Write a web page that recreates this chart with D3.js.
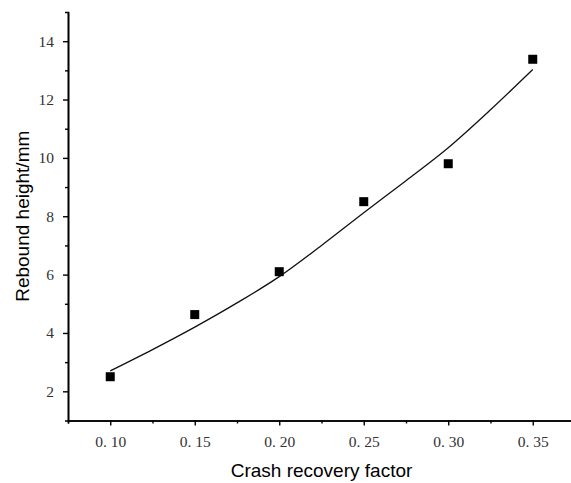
<!DOCTYPE html>
<html>
<head>
<meta charset="utf-8">
<script src="https://cdn.jsdelivr.net/npm/d3@7"></script>
<style>
  html, body { margin: 0; padding: 0; background: #fff; }
  svg { display: block; }
</style>
</head>
<body>
<div id="chart-container"></div>
<script>
// measured points
const factors = [0.10, 0.15, 0.20, 0.25, 0.30, 0.35];
const heights = [2.5, 4.63, 6.1, 8.5, 9.8, 13.38];

// fitted curve
const fitX = [0.10, 0.125, 0.15, 0.175, 0.20, 0.225, 0.25, 0.275, 0.30, 0.325, 0.35];
const fitY = [2.7, 3.43, 4.2, 5.03, 5.93, 7.0, 8.12, 9.22, 10.35, 11.65, 13.03];

const xTicks = [0.10, 0.15, 0.20, 0.25, 0.30, 0.35];
const yTicks = [2, 4, 6, 8, 10, 12, 14];

const width = 571, height = 483;
const marginLeft = 68, marginTop = 12, marginBottom = 62.5, marginRight = -4;

const svg = d3.select("#chart-container")
  .append("svg")
  .attr("width", width)
  .attr("height", height);

const x = d3.scaleLinear()
  .domain([0.075, 0.375])
  .range([marginLeft, width - marginRight]);

const y = d3.scaleLinear()
  .domain([1, 15])
  .range([height - marginBottom, marginTop]);

// x axis, major + minor ticks
const xAxisG = svg.append("g")
  .attr("transform", `translate(0, ${height - marginBottom})`);
xAxisG.call(d3.axisBottom(x)
  .tickValues(d3.range(0.075, 0.38, 0.025).filter(v => !xTicks.some(t => Math.abs(t - v) < 1e-6)))
  .tickSize(3).tickFormat(""));
xAxisG.append("g").call(d3.axisBottom(x)
  .tickValues(xTicks).tickSize(5).tickSizeOuter(0)
  .tickFormat(d => d3.format(".2f")(d).replace(".", ". ")));

// y axis
const yAxisG = svg.append("g")
  .attr("transform", `translate(${marginLeft}, 0)`);
yAxisG.call(d3.axisLeft(y)
  .tickValues([3, 5, 7, 9, 11, 13])
  .tickSize(3).tickFormat(""));
yAxisG.append("g").call(d3.axisLeft(y)
  .tickValues(yTicks).tickSize(5).tickSizeOuter(0));

svg.selectAll(".domain").attr("stroke", "#000").attr("stroke-width", 1.6);
svg.selectAll(".tick line").attr("stroke", "#000").attr("stroke-width", 1.4);
svg.selectAll(".tick text")
  .attr("fill", "#333")
  .style("font-family", "'Liberation Serif', 'DejaVu Serif', serif")
  .style("font-size", "15.5px");
xAxisG.selectAll(".tick text").attr("dy", "1.05em").attr("y", 10);
yAxisG.selectAll(".tick text").attr("x", -14);

// fitted line
const line = d3.line()
  .x((d, i) => x(fitX[i]))
  .y(d => y(d))
  .curve(d3.curveMonotoneX);

svg.append("path")
  .datum(fitY)
  .attr("d", line)
  .attr("fill", "none")
  .attr("stroke", "#111")
  .attr("stroke-width", 1.3);

// square markers
const s = 9;
svg.selectAll("rect.pt")
  .data(heights)
  .enter()
  .append("rect")
  .attr("class", "pt")
  .attr("x", (d, i) => x(factors[i]) - s / 2)
  .attr("y", d => y(d) - s / 2)
  .attr("width", s)
  .attr("height", s)
  .attr("fill", "#000");

// axis titles
svg.append("text")
  .attr("x", (marginLeft + width - marginRight) / 2)
  .attr("y", 477)
  .attr("text-anchor", "middle")
  .style("font-family", "'Liberation Sans', Arial, sans-serif")
  .style("font-size", "19px")
  .text("Crash recovery factor");

svg.append("text")
  .attr("transform", "rotate(-90)")
  .attr("x", -(marginTop + height - marginBottom) / 2)
  .attr("y", 29)
  .attr("text-anchor", "middle")
  .style("font-family", "'Liberation Sans', Arial, sans-serif")
  .style("font-size", "19px")
  .text("Rebound height/mm");
</script>
</body>
</html>
